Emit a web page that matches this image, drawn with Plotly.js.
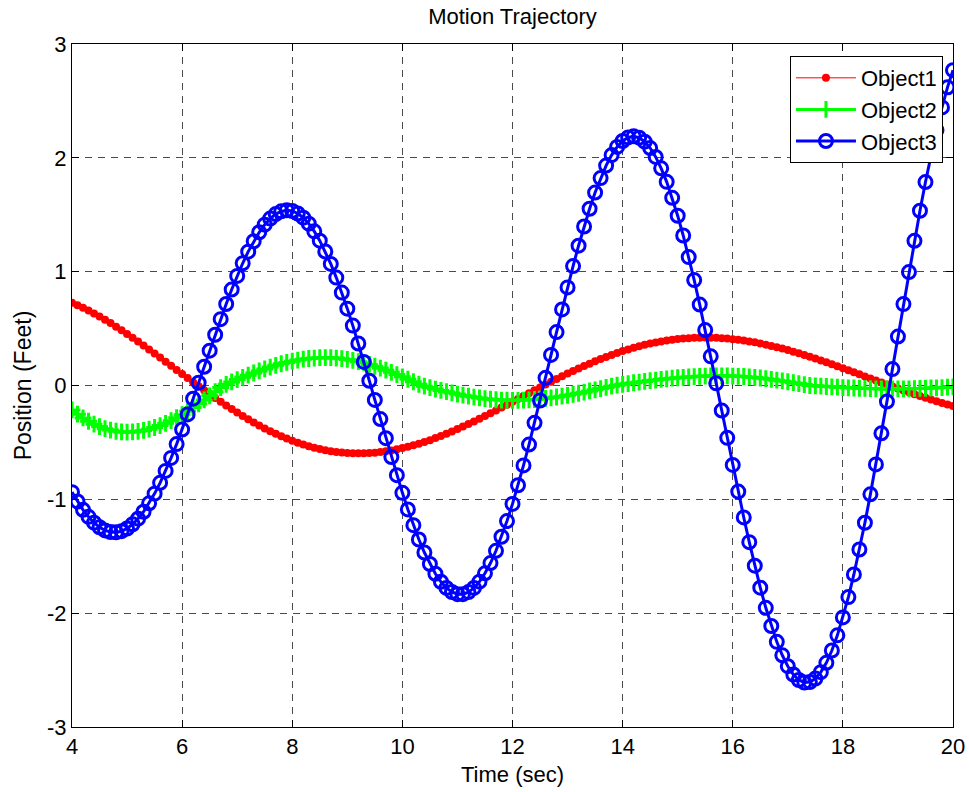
<!DOCTYPE html>
<html>
<head>
<meta charset="utf-8">
<script src="https://cdn.plot.ly/plotly-3.0.1.min.js"></script>
<style>html,body{margin:0;padding:0;background:#fff;}#chart{width:969px;height:792px;}</style>
</head>
<body>
<div id="chart"></div>
<script>
var timeSec = [4.0,4.1,4.2,4.3,4.4,4.5,4.6,4.7,4.8,4.9,
5.0,5.1,5.2,5.3,5.4,5.5,5.6,5.7,5.8,5.9,
6.0,6.1,6.2,6.3,6.4,6.5,6.6,6.7,6.8,6.9,
7.0,7.1,7.2,7.3,7.4,7.5,7.6,7.7,7.8,7.9,
8.0,8.1,8.2,8.3,8.4,8.5,8.6,8.7,8.8,8.9,
9.0,9.1,9.2,9.3,9.4,9.5,9.6,9.7,9.8,9.9,
10.0,10.1,10.2,10.3,10.4,10.5,10.6,10.7,10.8,10.9,
11.0,11.1,11.2,11.3,11.4,11.5,11.6,11.7,11.8,11.9,
12.0,12.1,12.2,12.3,12.4,12.5,12.6,12.7,12.8,12.9,
13.0,13.1,13.2,13.3,13.4,13.5,13.6,13.7,13.8,13.9,
14.0,14.1,14.2,14.3,14.4,14.5,14.6,14.7,14.8,14.9,
15.0,15.1,15.2,15.3,15.4,15.5,15.6,15.7,15.8,15.9,
16.0,16.1,16.2,16.3,16.4,16.5,16.6,16.7,16.8,16.9,
17.0,17.1,17.2,17.3,17.4,17.5,17.6,17.7,17.8,17.9,
18.0,18.1,18.2,18.3,18.4,18.5,18.6,18.7,18.8,18.9,
19.0,19.1,19.2,19.3,19.4,19.5,19.6,19.7,19.8,19.9,
20.0];

var object1 = [0.727,0.706,0.683,0.659,0.633,0.606,0.577,0.548,0.517,0.485,
0.453,0.420,0.386,0.352,0.317,0.281,0.245,0.209,0.173,0.137,
0.101,0.065,0.029,-0.006,-0.041,-0.075,-0.109,-0.143,-0.175,-0.207,
-0.238,-0.268,-0.297,-0.325,-0.351,-0.377,-0.401,-0.424,-0.446,-0.466,
-0.485,-0.503,-0.519,-0.533,-0.547,-0.558,-0.568,-0.577,-0.584,-0.589,
-0.593,-0.595,-0.596,-0.595,-0.593,-0.590,-0.585,-0.578,-0.570,-0.561,
-0.550,-0.538,-0.525,-0.511,-0.496,-0.480,-0.462,-0.444,-0.424,-0.404,
-0.383,-0.361,-0.339,-0.316,-0.292,-0.268,-0.244,-0.219,-0.194,-0.169,
-0.143,-0.118,-0.093,-0.067,-0.042,-0.017,0.008,0.033,0.057,0.081,
0.105,0.127,0.150,0.171,0.192,0.213,0.232,0.251,0.269,0.286,
0.302,0.317,0.331,0.345,0.357,0.368,0.378,0.387,0.395,0.402,
0.408,0.413,0.416,0.419,0.420,0.421,0.420,0.419,0.416,0.412,
0.407,0.401,0.395,0.387,0.379,0.369,0.359,0.348,0.336,0.324,
0.311,0.297,0.283,0.268,0.253,0.237,0.220,0.204,0.187,0.169,
0.152,0.134,0.116,0.098,0.080,0.062,0.044,0.026,0.009,-0.009,
-0.026,-0.043,-0.060,-0.077,-0.093,-0.108,-0.124,-0.138,-0.153,-0.166,
-0.179];

var object2 = [-0.215,-0.252,-0.285,-0.314,-0.340,-0.361,-0.379,-0.392,-0.402,-0.408,
-0.410,-0.408,-0.403,-0.395,-0.384,-0.369,-0.352,-0.332,-0.309,-0.283,
-0.256,-0.226,-0.194,-0.161,-0.127,-0.091,-0.055,-0.018,0.010,0.031,
0.052,0.072,0.091,0.110,0.128,0.146,0.162,0.177,0.191,0.203,
0.214,0.223,0.231,0.237,0.241,0.244,0.245,0.244,0.241,0.236,
0.229,0.221,0.210,0.198,0.185,0.169,0.153,0.135,0.116,0.096,
0.076,0.055,0.033,0.011,-0.006,-0.018,-0.031,-0.043,-0.054,-0.065,
-0.075,-0.085,-0.094,-0.102,-0.109,-0.116,-0.121,-0.125,-0.128,-0.129,
-0.130,-0.130,-0.128,-0.126,-0.123,-0.118,-0.113,-0.108,-0.101,-0.094,
-0.086,-0.077,-0.068,-0.059,-0.048,-0.038,-0.027,-0.017,-0.006,0.003,
0.010,0.017,0.024,0.030,0.036,0.043,0.048,0.054,0.059,0.064,
0.068,0.072,0.075,0.078,0.081,0.083,0.084,0.085,0.085,0.085,
0.083,0.081,0.079,0.075,0.071,0.066,0.060,0.054,0.047,0.040,
0.033,0.025,0.017,0.008,0.000,-0.003,-0.006,-0.009,-0.012,-0.015,
-0.018,-0.020,-0.022,-0.024,-0.026,-0.027,-0.029,-0.029,-0.030,-0.030,
-0.030,-0.029,-0.029,-0.027,-0.026,-0.024,-0.022,-0.020,-0.018,-0.015,
-0.012];

var object3 = [-0.937,-1.019,-1.092,-1.154,-1.205,-1.245,-1.273,-1.288,-1.290,-1.280,
-1.256,-1.219,-1.170,-1.109,-1.035,-0.950,-0.855,-0.750,-0.636,-0.515,
-0.387,-0.254,-0.116,0.024,0.165,0.306,0.446,0.583,0.716,0.843,
0.963,1.074,1.176,1.267,1.346,1.413,1.466,1.506,1.530,1.539,
1.533,1.511,1.474,1.422,1.354,1.272,1.177,1.068,0.948,0.816,
0.675,0.526,0.369,0.207,0.042,-0.127,-0.295,-0.463,-0.628,-0.788,
-0.943,-1.089,-1.227,-1.353,-1.467,-1.568,-1.654,-1.724,-1.778,-1.814,
-1.833,-1.833,-1.815,-1.778,-1.723,-1.650,-1.560,-1.452,-1.329,-1.191,
-1.040,-0.876,-0.702,-0.519,-0.328,-0.132,0.067,0.269,0.469,0.668,
0.862,1.049,1.228,1.397,1.553,1.695,1.822,1.932,2.024,2.096,
2.148,2.179,2.189,2.177,2.142,2.086,2.008,1.908,1.789,1.649,
1.491,1.318,1.128,0.926,0.711,0.487,0.256,0.019,-0.220,-0.460,
-0.698,-0.932,-1.159,-1.376,-1.583,-1.776,-1.953,-2.113,-2.252,-2.370,
-2.466,-2.539,-2.587,-2.609,-2.605,-2.575,-2.518,-2.436,-2.328,-2.195,
-2.037,-1.859,-1.660,-1.441,-1.206,-0.956,-0.693,-0.420,-0.141,0.144,
0.430,0.715,0.996,1.271,1.535,1.787,2.024,2.243,2.443,2.619,
2.770];

var xTicks = [4,6,8,10,12,14,16,18,20];
var xTickText = ['4','6','8','10','12','14','16','18','20'];
var yTicks = [-3,-2,-1,0,1,2,3];
var yTickText = ['-3','-2','-1','0','1','2','3'];
var seriesNames = ['Object1','Object2','Object3'];

var FONT = '"Liberation Sans", Arial, Helvetica, sans-serif';

var traces = [
  {x: timeSec, y: object1, name: seriesNames[0], type: 'scatter', mode: 'lines+markers',
   line: {color: '#ff0000', width: 1},
   marker: {symbol: 'circle', size: 8, color: '#ff0000'}},
  {x: timeSec, y: object2, name: seriesNames[1], type: 'scatter', mode: 'lines+markers',
   line: {color: '#00ff00', width: 3},
   marker: {symbol: 'cross-thin-open', size: 12, color: '#00ff00', line: {color: '#00ff00', width: 3}}},
  {x: timeSec, y: object3, name: seriesNames[2], type: 'scatter', mode: 'lines+markers',
   line: {color: '#0000ff', width: 3},
   marker: {symbol: 'circle-open', size: 13, color: '#0000ff', line: {color: '#0000ff', width: 3}}}
];

var axisCommon = {
  showline: true, linecolor: '#000', linewidth: 1, mirror: 'ticks',
  ticks: 'inside', ticklen: 7, tickcolor: '#000', tickwidth: 1,
  showgrid: true, gridcolor: '#4a4a4a', gridwidth: 1, griddash: '7px,6px',
  zeroline: false, tickfont: {family: FONT, size: 22, color: '#000'}
};

var layout = {
  width: 969, height: 792,
  paper_bgcolor: '#fff', plot_bgcolor: '#fff',
  margin: {l: 72, r: 16, t: 44, b: 65, pad: 0},
  title: {text: 'Motion Trajectory', x: 0.5, xref: 'paper', xanchor: 'center',
          y: 0.98, yref: 'container', yanchor: 'middle',
          font: {family: FONT, size: 22, color: '#000'}},
  xaxis: Object.assign({}, axisCommon, {range: [4, 20], tickvals: xTicks, ticktext: xTickText,
          title: {text: 'Time (sec)', font: {family: FONT, size: 22, color: '#000'}, standoff: 8}}),
  yaxis: Object.assign({}, axisCommon, {range: [-3, 3], tickvals: yTicks, ticktext: yTickText,
          title: {text: 'Position (Feet)', font: {family: FONT, size: 23, color: '#000'}, standoff: 8}}),
  showlegend: true,
  legend: {x: 0.9886, xanchor: 'right', y: 0.9824, yanchor: 'top',
           bgcolor: '#fff', bordercolor: '#000', borderwidth: 1,
           font: {family: FONT, size: 22, color: '#000'}, tracegroupgap: 0, itemwidth: 60}
};

Plotly.newPlot('chart', traces, layout, {displayModeBar: false, staticPlot: true});
</script>
</body>
</html>
